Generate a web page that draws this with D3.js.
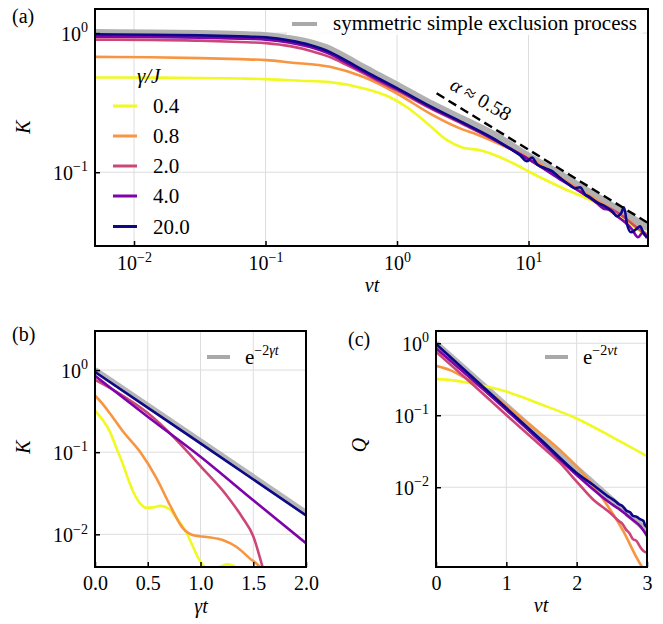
<!DOCTYPE html>
<html>
<head>
<meta charset="utf-8">
<script src="https://cdn.jsdelivr.net/npm/d3@7"></script>
<style>
  html, body { margin: 0; padding: 0; background: #fff; }
  svg { display: block; }
  text { font-family: "Liberation Serif", "Times New Roman", "Nimbus Roman", "DejaVu Serif", serif; }
</style>
</head>
<body>
<svg id="fig" width="663" height="624" font-family="Liberation Serif, Times New Roman, DejaVu Serif, serif"></svg>
<script>
// ---------------- data ----------------
const gammaOverJ = ["0.4", "0.8", "2.0", "4.0", "20.0"];
const lineColors = ["#f0f921", "#f89540", "#cc4778", "#7e03a8", "#0d0887"];
const refColor = "#a9a9a9";

// (a) K versus νt, log–log
const aSsepT = [0.00505, 0.01323, 0.0318, 0.0640, 0.101, 0.1536, 0.2180, 0.3094, 0.4167, 0.5512, 0.7425, 1.0, 1.782, 3.176, 5.761, 9.741, 17.36, 30.94, 49.64, 81.0];
const aSsepK = [1.008, 1.003, 0.993, 0.977, 0.959, 0.913, 0.854, 0.767, 0.661, 0.569, 0.491, 0.423, 0.3135, 0.2406, 0.1815, 0.1325, 0.0968, 0.0694, 0.0528, 0.0399];

const aT04 = [0.00505, 0.01323, 0.0318, 0.0640, 0.101, 0.183, 0.3094, 0.5512, 0.8847, 1.191, 1.691, 2.400, 3.176, 4.278, 5.096, 7.624, 10.27, 18.30, 33.19, 49.64, 74.3, 81.0];
const aK04 = [0.480, 0.4785, 0.476, 0.4715, 0.467, 0.455, 0.444, 0.402, 0.346, 0.293, 0.225, 0.170, 0.150, 0.144, 0.137, 0.116, 0.100, 0.0767, 0.0598, 0.0475, 0.0364, 0.0346];

const aT08 = [0.00505, 0.01323, 0.0318, 0.0640, 0.101, 0.1536, 0.3094, 0.5512, 1.0, 1.782, 2.860, 4.278, 7.624, 10.27, 18.30, 33.19, 49.64, 79.6];
const aK08 = [0.675, 0.670, 0.661, 0.650, 0.639, 0.615, 0.572, 0.485, 0.368, 0.264, 0.211, 0.183, 0.144, 0.126, 0.089, 0.0629, 0.0499, 0.0358];

const aT20 = [0.00505, 0.01323, 0.0318, 0.0640, 0.101, 0.1536, 0.2180, 0.3094, 0.4167, 0.5512, 0.7425, 1.0, 1.782, 3.176, 5.761, 10.27, 18.30, 33.19, 49.64, 64.5, 79.6];
const aK20 = [0.898, 0.894, 0.883, 0.864, 0.847, 0.806, 0.748, 0.672, 0.589, 0.516, 0.444, 0.386, 0.289, 0.221, 0.167, 0.122, 0.0876, 0.0608, 0.0499, 0.0409, 0.0352];

const aT40 = [0.00505, 0.01323, 0.0318, 0.0640, 0.101, 0.1536, 0.2180, 0.3094, 0.4167, 0.5512, 0.7425, 1.0, 1.782, 3.176, 5.761, 10.27, 18.30, 33.19, 36.86, 41.67, 47.1, 54.19, 61.2, 68.0, 74.3, 79.6];
const aK40 = [0.944, 0.939, 0.928, 0.913, 0.898, 0.854, 0.793, 0.706, 0.608, 0.528, 0.455, 0.3955, 0.293, 0.225, 0.167, 0.122, 0.0861, 0.0598, 0.0551, 0.0533, 0.0483, 0.0437, 0.0389, 0.0341, 0.037, 0.0335];

const aT200 = [0.00505, 0.01323, 0.0318, 0.0640, 0.101, 0.1536, 0.2180, 0.3094, 0.4167, 0.5512, 0.7425, 1.0, 1.782, 3.176, 5.761, 7.234, 8.617, 9.741, 10.63, 11.60, 13.35, 15.09, 16.76, 18.30, 20.69, 22.58, 24.64, 26.90, 29.36, 33.19, 38.17, 43.15, 47.1, 50.52, 53.24, 56.1, 60.2, 65.7, 70.5, 75.6, 79.6];
const aK200 = [0.979, 0.974, 0.963, 0.947, 0.931, 0.883, 0.820, 0.730, 0.629, 0.542, 0.467, 0.402, 0.2985, 0.227, 0.169, 0.1476, 0.1325, 0.120, 0.1275, 0.114, 0.1069, 0.1017, 0.0936, 0.0876, 0.0806, 0.0767, 0.078, 0.0694, 0.0661, 0.0608, 0.0569, 0.0524, 0.0483, 0.0507, 0.056, 0.0423, 0.037, 0.0389, 0.0409, 0.0358, 0.0341];

// power-law guide, K ∝ (νt)^(−α)
const aSlopeT = [2.0, 81.0];
const aSlopeK = [0.369, 0.0432];
const alphaLabel = "0.58";

// (b) K versus γt
const bRefT = [0, 2];
const bRefK = [1.0, 0.0183];
const bT04 = [0, 0.07, 0.142, 0.2, 0.268, 0.32, 0.363, 0.42, 0.49, 0.55, 0.62, 0.70, 0.77, 0.87, 0.93, 1.0, 1.06, 1.13, 1.2, 1.25, 1.3, 1.35, 1.42];
const bK04 = [0.32, 0.25, 0.177, 0.115, 0.0693, 0.045, 0.0328, 0.0245, 0.0210, 0.0213, 0.0222, 0.0205, 0.0160, 0.0103, 0.0070, 0.0046, 0.0039, 0.0038, 0.0041, 0.0043, 0.0042, 0.0038, 0.0030];
const bT08 = [0, 0.07, 0.142, 0.268, 0.427, 0.585, 0.711, 0.837, 0.932, 1.059, 1.216, 1.343, 1.469, 1.564, 1.62];
const bK08 = [0.49, 0.39, 0.296, 0.177, 0.101, 0.0478, 0.0226, 0.0117, 0.00973, 0.00927, 0.00845, 0.0070, 0.00506, 0.00398, 0.0030];
const bT20 = [0, 0.25, 0.5, 0.75, 0.88, 1.0, 1.25, 1.4, 1.5, 1.6, 1.65];
const bK20 = [0.76, 0.50, 0.30, 0.151, 0.100, 0.0676, 0.0295, 0.0158, 0.0095, 0.00355, 0.0022];
const bT40 = [0, 0.5, 1.0, 1.5, 2.0];
const bK40 = [0.85, 0.27, 0.088, 0.026, 0.0078];
const bT200 = [0, 1.0, 2.0];
const bK200 = [0.95, 0.128, 0.017];

// (c) Q versus νt
const cRefT = [0, 3];
const cRefQ = [1.0, 0.00248];
const cT04 = [0, 0.25, 0.5, 1.0, 1.5, 2.0, 2.5, 3.0];
const cQ04 = [0.32, 0.305, 0.278, 0.213, 0.141, 0.090, 0.050, 0.027];
const cT08 = [0, 0.199, 0.388, 0.625, 0.863, 1.336, 1.81, 2.19, 2.428, 2.663, 2.853, 2.95];
const cQ08 = [0.486, 0.424, 0.342, 0.249, 0.172, 0.0735, 0.0298, 0.012, 0.00575, 0.00245, 0.00105, 0.00072];
const cT20 = [0, 0.5, 1.0, 1.5, 1.763, 2.0, 2.233, 2.474, 2.6, 2.65, 2.7, 2.75, 2.8, 2.85, 2.9, 2.95, 3.0];
const cQ20 = [0.76, 0.28, 0.101, 0.037, 0.0218, 0.012, 0.00676, 0.00442, 0.0034, 0.0031, 0.0026, 0.0023, 0.0019, 0.0018, 0.0015, 0.0013, 0.00123];
const cT40 = [0, 0.5, 1.0, 1.5, 2.0, 2.5, 2.6, 2.7, 2.8, 2.9, 2.95, 3.0];
const cQ40 = [0.85, 0.32, 0.118, 0.042, 0.0148, 0.0058, 0.0050, 0.0042, 0.0035, 0.0029, 0.0025, 0.0021];
const cT200 = [0, 0.5, 1.0, 1.5, 2.0, 2.25, 2.47, 2.55, 2.6, 2.65, 2.71, 2.76, 2.8, 2.85, 2.9, 2.95, 2.97, 3.0];
const cQ200 = [0.98, 0.35, 0.126, 0.045, 0.0158, 0.0105, 0.0072, 0.0064, 0.0058, 0.0055, 0.0047, 0.0045, 0.0040, 0.0039, 0.0036, 0.0034, 0.0030, 0.0028];

// tick values
const aXTicks = [0.01, 0.1, 1, 10];
const aYTicks = [1, 0.1];
const bXTicks = [0, 0.5, 1.0, 1.5, 2.0];
const bYTicks = [1, 0.1, 0.01];
const cXTicks = [0, 1, 2, 3];
const cYTicks = [1, 0.1, 0.01];

// ---------------- drawing ----------------
const SERIF = "Liberation Serif, Times New Roman, DejaVu Serif, serif";
const svg = d3.select("#fig");
const defs = svg.append("defs");
const FS = 20;     // tick and axis labels
const LFS = 21;    // legend entries

const expText = v => {
  const e = Math.round(Math.log10(v));
  return e < 0 ? "\u2212" + (-e) : String(e);
};
function powLabel(sel) {
  sel.each(function (d) {
    const t = d3.select(this);
    t.text(null);
    t.append("tspan").text("10");
    t.append("tspan").attr("font-size", 14).attr("dy", -8.5).text(expText(d));
  });
}

function makePanel(name, x, y, xTicks, yTicks, xGrid, yGrid, xFmt, xPad) {
  const [x0, x1] = x.range();
  const [y0, y1] = y.range(); // y0 bottom, y1 top
  const g = svg.append("g");

  // grid
  g.append("g").selectAll("line").data(xGrid).join("line")
    .attr("x1", d => x(d)).attr("x2", d => x(d)).attr("y1", y1).attr("y2", y0)
    .attr("stroke", "#dddddd").attr("stroke-width", 1);
  g.append("g").selectAll("line").data(yGrid).join("line")
    .attr("y1", d => y(d)).attr("y2", d => y(d)).attr("x1", x0).attr("x2", x1)
    .attr("stroke", "#dddddd").attr("stroke-width", 1);

  defs.append("clipPath").attr("id", "clip-" + name)
    .append("rect").attr("x", x0).attr("y", y1).attr("width", x1 - x0).attr("height", y0 - y1);
  const plot = g.append("g").attr("clip-path", `url(#clip-${name})`);

  // axes (ticks point inward)
  const ax = g.append("g").attr("transform", `translate(0,${y0})`)
    .call(d3.axisBottom(x).tickValues(xTicks).tickSizeInner(-5).tickSizeOuter(0).tickPadding(xPad)
      .tickFormat(xFmt || null));
  const ay = g.append("g").attr("transform", `translate(${x0},0)`)
    .call(d3.axisLeft(y).tickValues(yTicks).tickSizeInner(-5).tickSizeOuter(0).tickPadding(7));
  [ax, ay].forEach(a => {
    a.select(".domain").remove();
    a.attr("font-family", SERIF).attr("font-size", FS);
    a.selectAll(".tick line").attr("stroke", "#000").attr("stroke-width", 1.5);
    a.selectAll(".tick text").attr("fill", "#000").attr("font-size", FS).attr("font-family", SERIF);
  });
  ay.selectAll(".tick text").call(powLabel).attr("dy", "0.36em");
  if (!xFmt) ax.selectAll(".tick text").call(powLabel);

  const frame = () => g.append("rect").attr("x", x0).attr("y", y1)
    .attr("width", x1 - x0).attr("height", y0 - y1)
    .attr("fill", "none").attr("stroke", "#000").attr("stroke-width", 2);
  return { g, plot, frame };
}

function drawLine(plot, x, y, xs, ys, color, width, opts = {}) {
  const pts = d3.zip(xs, ys);
  const gen = d3.line().x(d => x(d[0])).y(d => y(d[1]))
    .curve(opts.linear ? d3.curveLinear : d3.curveMonotoneX);
  const p = plot.append("path").datum(pts).attr("d", gen)
    .attr("fill", "none").attr("stroke", color).attr("stroke-width", width)
    .attr("stroke-linejoin", "round").attr("stroke-linecap", "butt");
  if (opts.opacity) p.attr("stroke-opacity", opts.opacity);
  if (opts.dash) p.attr("stroke-dasharray", opts.dash);
  return p;
}

function addText(parent, x, y, txt, opts = {}) {
  const t = parent.append("text").attr("x", x).attr("y", y)
    .attr("font-size", opts.size || FS).attr("font-family", SERIF).attr("fill", "#000");
  if (opts.italic) t.attr("font-style", "italic");
  if (opts.anchor) t.attr("text-anchor", opts.anchor);
  if (opts.transform) t.attr("transform", opts.transform);
  t.text(txt);
  return t;
}

// ----- panel (a) -----
const ax = d3.scaleLog().domain([0.00505, 81]).range([95, 648]);
const ay = d3.scaleLog().domain([0.0295, 1.49]).range([246, 9]);
const pa = makePanel("a", ax, ay, aXTicks, aYTicks, aXTicks, aYTicks, null, 10);
drawLine(pa.plot, ax, ay, aSsepT, aSsepK, refColor, 7, { opacity: 0.9 });
const aSeries = [[aT04, aK04], [aT08, aK08], [aT20, aK20], [aT40, aK40], [aT200, aK200]];
aSeries.forEach((s, i) => drawLine(pa.plot, ax, ay, s[0], s[1], lineColors[i], 2.6));
drawLine(pa.plot, ax, ay, aSlopeT, aSlopeK, "#000", 2.4, { linear: true, dash: "9,5" });
pa.frame();

// slope annotation, set parallel to the guide line
{
  const ang = Math.atan2(ay(aSlopeK[1]) - ay(aSlopeK[0]), ax(aSlopeT[1]) - ax(aSlopeT[0])) * 180 / Math.PI;
  const t = pa.g.append("text").attr("font-size", FS).attr("font-family", SERIF)
    .attr("text-anchor", "middle").attr("dy", "0.35em")
    .attr("transform", `translate(481,99) rotate(${ang - 2})`);
  t.append("tspan").attr("font-style", "italic").text("\u03b1");
  t.append("tspan").text(" \u2248 " + alphaLabel);
}

// legends of (a)
pa.g.append("rect").attr("x", 287).attr("y", 11).attr("width", 356).attr("height", 24)
  .attr("fill", "#fff").attr("fill-opacity", 0.85);
pa.g.append("line").attr("x1", 292).attr("x2", 317).attr("y1", 24).attr("y2", 24)
  .attr("stroke", refColor).attr("stroke-width", 4);
addText(pa.g, 333, 30, "symmetric simple exclusion process", { size: LFS });

addText(pa.g, 137, 83, "\u03b3/J", { italic: true, size: LFS });
const legY = [106, 136, 166, 196, 226.5];
gammaOverJ.forEach((lab, i) => {
  pa.g.append("line").attr("x1", 113).attr("x2", 137).attr("y1", legY[i]).attr("y2", legY[i])
    .attr("stroke", lineColors[i]).attr("stroke-width", 3);
  addText(pa.g, 153, legY[i] + 7, lab, { size: LFS });
});

addText(svg, 30, 127, "K", { italic: true, anchor: "middle", transform: "rotate(-90,30,127)" });
addText(svg, 372, 292, "\u03bdt", { italic: true, anchor: "middle" });
addText(svg, 12, 23, "(a)");

// ----- panel (b) -----
const bx = d3.scaleLinear().domain([0, 2]).range([95, 306]);
const by = d3.scaleLog().domain([0.004, 2.99]).range([567, 331]);
const pb = makePanel("b", bx, by, bXTicks, bYTicks, [0.5, 1.0, 1.5], bYTicks, d3.format(".1f"), 9);
drawLine(pb.plot, bx, by, bRefT, bRefK, refColor, 6, { linear: true, opacity: 0.85 });
const bSeries = [[bT04, bK04], [bT08, bK08], [bT20, bK20], [bT40, bK40], [bT200, bK200]];
bSeries.forEach((s, i) => drawLine(pb.plot, bx, by, s[0], s[1], lineColors[i], 2.6));
pb.frame();
pb.g.append("line").attr("x1", 207).attr("x2", 230).attr("y1", 357).attr("y2", 357)
  .attr("stroke", refColor).attr("stroke-width", 4);
{
  const t = addText(pb.g, 245, 364, "", { size: LFS });
  t.append("tspan").text("e");
  t.append("tspan").attr("font-size", 14).attr("dy", -9).text("\u22122");
  t.append("tspan").attr("font-size", 14).attr("font-style", "italic").text("\u03b3t");
}
addText(svg, 30, 447, "K", { italic: true, anchor: "middle", transform: "rotate(-90,30,447)" });
addText(svg, 201, 613, "\u03b3t", { italic: true, anchor: "middle" });
addText(svg, 12, 341, "(b)");

// ----- panel (c) -----
const cx = d3.scaleLinear().domain([0, 3]).range([436, 647]);
const cy = d3.scaleLog().domain([0.00078, 1.48]).range([567, 331]);
const pc = makePanel("c", cx, cy, cXTicks, cYTicks, [1, 2], cYTicks, d3.format("d"), 9);
drawLine(pc.plot, cx, cy, cRefT, cRefQ, refColor, 6, { linear: true, opacity: 0.85 });
const cSeries = [[cT04, cQ04], [cT08, cQ08], [cT20, cQ20], [cT40, cQ40], [cT200, cQ200]];
cSeries.forEach((s, i) => drawLine(pc.plot, cx, cy, s[0], s[1], lineColors[i], 2.6));
pc.frame();
pc.g.append("line").attr("x1", 545).attr("x2", 568).attr("y1", 357).attr("y2", 357)
  .attr("stroke", refColor).attr("stroke-width", 4);
{
  const t = addText(pc.g, 583, 364, "", { size: LFS });
  t.append("tspan").text("e");
  t.append("tspan").attr("font-size", 14).attr("dy", -9).text("\u22122");
  t.append("tspan").attr("font-size", 14).attr("font-style", "italic").text("\u03bdt");
}
addText(svg, 366, 445, "Q", { italic: true, anchor: "middle", transform: "rotate(-90,366,445)" });
addText(svg, 541, 612, "\u03bdt", { italic: true, anchor: "middle" });
addText(svg, 348, 346, "(c)");
</script>
</body>
</html>
